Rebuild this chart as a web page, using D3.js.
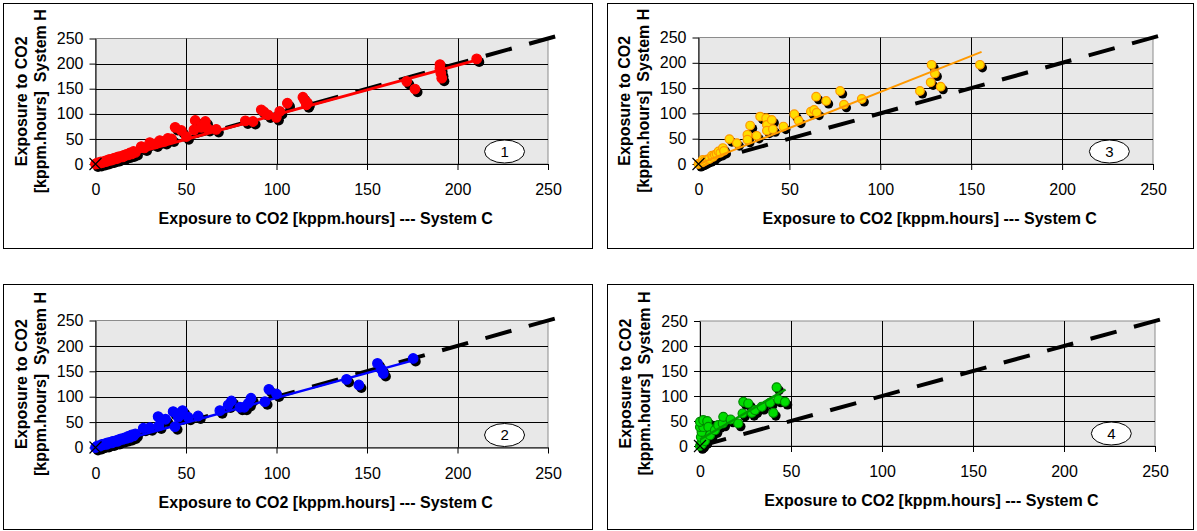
<!DOCTYPE html>
<html>
<head>
<meta charset="utf-8">
<script src="https://cdn.jsdelivr.net/npm/d3@7"></script>
<style>
  body { margin: 0; background: #fff; }
  svg text { font-family: Arial, "Liberation Sans", sans-serif; }
</style>
</head>
<body>
<svg id="chart" width="1197" height="531"></svg>
<script>
// ---- data ---------------------------------------------------------------
const xTicks = [0, 50, 100, 150, 200, 250];
const yTicks = [0, 50, 100, 150, 200, 250];
const xTitle = "Exposure to CO2 [kppm.hours] --- System C";
const yTitleLines = ["Exposure to CO2", "[kppm.hours]  System H"];
const panelNumbers = ["1", "2", "3", "4"];
const parityEnd = 256;                 // 1:1 reference line runs to this exposure

// [System C, System H] exposure pairs, kppm.hours
const exposure1 = [
  [0,0],[1,2],[2,1],[2.5,3],[3,4],[4,3],[5,5],[5.5,6],[6,5],[7,8],[7.5,7],[8,9],[9,8],
  [10,11],[10.5,10],[11,12],[12,11],[12.5,14],[13,13],[14,15],[15,14],[15.5,17],[16,16],
  [17,19],[18,18],[19,22],[20,20],[21,25],[22,23],
  [25.3,34.7],[27,32],[30,42.7],[33,40],[35.5,46.7],[38,45],[40,51],[42,50],[44,73],
  [47.4,66.7],[50.2,54.7],[54.4,68],[55.1,86.7],[58.5,73],[60.7,84.7],[61.8,71],[66.7,69],
  [82.8,86],[87,84.7],[91.6,108],[93,104],[95.3,98],[99.9,93],[101.8,104.7],[106,121],
  [114.6,133],[115.5,127],[116.5,118],[117,122],[171.9,164.7],[176.5,149.3],
  [190.3,198],[190.3,190],[190.8,181],[191.3,171],[210.6,209.3]
];
const exposure2 = [
  [0,0],[1,3],[2,2],[3,4],[3.5,6],[4,5],[5,7],[6,6],[6.5,9],[7,8],[8,10],[9,9],[9.5,12],
  [10,11],[11,13],[12,12],[12.5,15],[13,14],[14,17],[15,16],[16,19],[17,18],[18,22],
  [19,20],[20,25],[21,23],[22,27],
  [26.4,38],[30,39.2],[34.6,60.8],[35,42.5],[38.7,55.6],[42.9,70.6],[43.9,41.2],
  [45.7,59.6],[46.6,67.4],[48.1,72.5],[51.2,59.6],[56.7,62],[68.7,72.5],[73.3,83.7],
  [75.1,91.6],[79.8,79.2],[82.2,79.2],[84.4,87],[85.9,96.9],[93.6,90.2],[95.8,114.5],
  [100,105.3],[138.7,134.1],[145.5,123],[155.8,165.5],[158,153.7],[159,145.9],[175.5,175.3]
];
const exposure3 = [
  [0,0],[1,2],[2,3],[2.3,8],[3,5],[4,7],[5,9],[6,10],[7.4,16.3],[8,14],[9,18],[10,20],
  [11,24.8],[12,22],[13.4,31.5],[14,26],
  [17,49.2],[21.1,41.3],[26.9,57.7],[26.9,48],[28.4,76],[32,55.7],[33.9,93.7],[37.2,90.5],
  [37.6,77.4],[37.6,66],[40.3,87.2],[40.9,68.9],[46.7,74],[52.7,98.4],[55,85.8],
  [61.8,103.5],[63.6,107],[64.7,133],[65,101.6],[70.2,124.6],[77.9,144.3],[80,117.3],
  [89.8,128.5],[121.8,144.3],[127.7,161.4],[128.2,196],[130,179],[133.2,152.8],[154.8,196]
];
const exposure4 = [
  [0,0],[0.5,5],[1,3],[0.5,18],[2.7,10],[0.9,28.2],[0,38],[1.8,38],[0,48.3],[1.8,51.7],
  [4,49.7],[4.6,38.2],[5.5,21.5],[8.2,31.6],[10,41.6],[12.5,45],[12.8,58.3],[16.8,53],
  [21,45],[23.4,65],[23.8,88.4],[26.5,85],[28.4,66.3],[30.2,71.8],[33.9,78.5],[38.5,86.5],
  [40.3,66.3],[42.1,117.3],[43,93],[46.7,88.4]
];
// fitted trend lines: [C start, H start, C end, H end]
const trend1 = [0, 0, 211.5, 208];
const trend2 = [0, 0, 177, 173];
const trend3 = [0, 0, 155.7, 221.7];
const trend4 = [0, 13, 47, 113];

// ---- layout & styling ---------------------------------------------------
const panels = [
  { num: panelNumbers[0], pts: exposure1, trend: trend1,
    box: [3, 3, 592, 248], plot: [95.5, 38.5, 548, 164],
    fill: "#ff0000", edge: "#ff0000", line: "#ff0000", lineW: 3, r: 4.8 },
  { num: panelNumbers[1], pts: exposure2, trend: trend2,
    box: [3, 284, 592, 529], plot: [95.5, 320.5, 548, 447.5],
    fill: "#0000ff", edge: "#0000ff", line: "#0000ff", lineW: 2.5, r: 4.8 },
  { num: panelNumbers[2], pts: exposure3, trend: trend3,
    box: [607, 3, 1193, 248], plot: [698.5, 37.5, 1153, 164],
    fill: "#ffdd00", edge: "#ff9900", line: "#ff9900", lineW: 2, r: 4.3 },
  { num: panelNumbers[3], pts: exposure4, trend: trend4,
    box: [607, 284, 1193, 529], plot: [700, 321, 1155, 446],
    fill: "#00dd00", edge: "#008800", line: "#009900", lineW: 2.5, r: 4.5 }
];

const svg = d3.select("#chart");

panels.forEach(p => {
  const g = svg.append("g");
  const [bx0, by0, bx1, by1] = p.box;
  const [px0, py0, px1, py1] = p.plot;

  // outer frame
  g.append("rect")
    .attr("x", bx0 + 0.5).attr("y", by0 + 0.5)
    .attr("width", bx1 - bx0).attr("height", by1 - by0)
    .attr("fill", "#fff").attr("stroke", "#000").attr("stroke-width", 1);

  const x = d3.scaleLinear().domain([0, 250]).range([px0, px1]);
  const y = d3.scaleLinear().domain([0, 250]).range([py1, py0]);

  // plot area
  g.append("rect")
    .attr("x", px0).attr("y", py0)
    .attr("width", px1 - px0).attr("height", py1 - py0)
    .attr("fill", "#e8e8e8").attr("stroke", "#8c8c8c").attr("stroke-width", 1);

  // gridlines
  g.append("g").selectAll("line").data(yTicks.slice(1, -1)).join("line")
    .attr("x1", px0).attr("x2", px1)
    .attr("y1", d => Math.round(y(d)) + 0.5).attr("y2", d => Math.round(y(d)) + 0.5)
    .attr("stroke", "#000").attr("stroke-width", 1);
  g.append("g").selectAll("line").data(xTicks.slice(1, -1)).join("line")
    .attr("y1", py0).attr("y2", py1)
    .attr("x1", d => Math.round(x(d)) + 0.5).attr("x2", d => Math.round(x(d)) + 0.5)
    .attr("stroke", "#000").attr("stroke-width", 1);

  // axes
  const ya = g.append("g").attr("transform", `translate(${px0},0)`)
    .call(d3.axisLeft(y).tickValues(yTicks).tickSize(6).tickPadding(6).tickSizeOuter(0));
  const xa = g.append("g").attr("transform", `translate(0,${py1})`)
    .call(d3.axisBottom(x).tickValues(xTicks).tickSize(6).tickPadding(14).tickSizeOuter(0));
  [ya, xa].forEach(a => {
    a.selectAll("path,line").attr("stroke", "#000");
    a.selectAll("text").attr("font-size", 16).attr("fill", "#000")
      .attr("font-family", "Arial, 'Liberation Sans', sans-serif");
  });

  // 1:1 parity line
  g.append("line")
    .attr("x1", x(0)).attr("y1", y(0))
    .attr("x2", x(parityEnd)).attr("y2", y(parityEnd))
    .attr("stroke", "#000").attr("stroke-width", 4)
    .attr("stroke-dasharray", "27 18");

  // marker shadows, then markers
  g.append("g").selectAll("circle").data(p.pts).join("circle")
    .attr("cx", d => x(d[0]) + 2.5).attr("cy", d => y(d[1]) + 3)
    .attr("r", p.r + 0.3).attr("fill", "#000");
  g.append("g").selectAll("circle").data(p.pts).join("circle")
    .attr("cx", d => x(d[0])).attr("cy", d => y(d[1]))
    .attr("r", p.r).attr("fill", p.fill)
    .attr("stroke", p.edge).attr("stroke-width", 1.2);

  // trend line
  g.append("line")
    .attr("x1", x(p.trend[0])).attr("y1", y(p.trend[1]))
    .attr("x2", x(p.trend[2])).attr("y2", y(p.trend[3]))
    .attr("stroke", p.line).attr("stroke-width", p.lineW);

  // origin cross marker
  const ox = x(0), oy = y(0), s = 6;
  g.append("path")
    .attr("d", `M${ox - s},${oy - s}L${ox + s},${oy + s}M${ox - s},${oy + s}L${ox + s},${oy - s}`)
    .attr("stroke", "#000").attr("stroke-width", 1.2);

  // panel number badge
  g.append("ellipse")
    .attr("cx", x(226)).attr("cy", py1 - 12.5)
    .attr("rx", 20).attr("ry", 11.5)
    .attr("fill", "#fff").attr("stroke", "#000").attr("stroke-width", 1);
  g.append("text")
    .attr("x", x(226)).attr("y", py1 - 12.5).attr("dy", "0.36em")
    .attr("text-anchor", "middle").attr("font-size", 15).attr("fill", "#000")
    .text(p.num);

  // axis titles
  g.append("text")
    .attr("x", (px0 + px1) / 2 + 4).attr("y", py1 + 60)
    .attr("text-anchor", "middle").attr("font-size", 16).attr("font-weight", "bold")
    .attr("fill", "#000")
    .text(xTitle);
  const cy = (py0 + py1) / 2;
  yTitleLines.forEach((t, i) => {
    g.append("text")
      .attr("transform", `translate(${px0 - 69 + i * 19},${cy}) rotate(-90)`)
      .attr("text-anchor", "middle").attr("font-size", 16).attr("font-weight", "bold")
      .attr("fill", "#000").style("white-space", "pre")
      .text(t);
  });
});
</script>
</body>
</html>
